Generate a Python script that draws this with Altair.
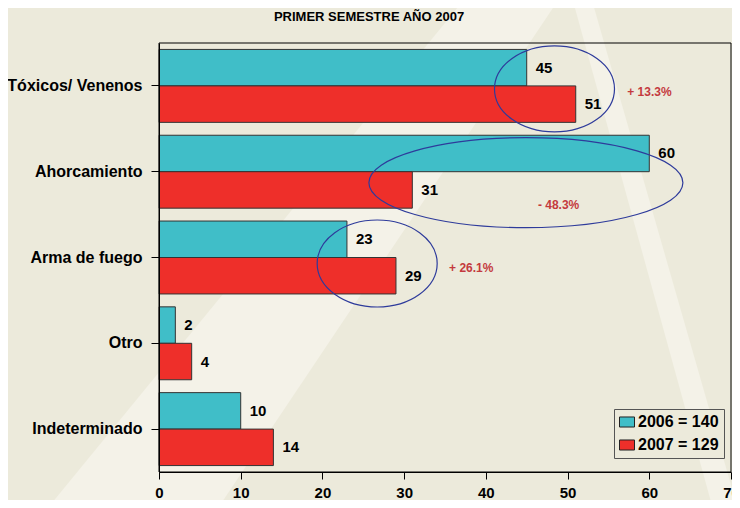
import altair as alt
import pandas as pd

# ---- data ----
cats = ["Tóxicos/ Venenos", "Ahorcamiento", "Arma de fuego", "Otro", "Indeterminado"]
years = ["2006", "2007"]
v2006 = [45, 60, 23, 2, 10]
v2007 = [51, 31, 29, 4, 14]
totals = [140, 129]
change_cats = ["Tóxicos/ Venenos", "Ahorcamiento", "Arma de fuego"]
change_txt = ["+ 13.3%", "- 48.3%", "+ 26.1%"]
subtitle = "PRIMER SEMESTRE AÑO 2007"

FONT = "Liberation Sans"
CYAN = "#40BEC8"
RED = "#EE2F2A"
BLUE = "#2E3B9B"
PCT = "#C43A3E"
BG = "#ECEADB"
LIGHT = "#F4F2E8"

W, H = 572, 429
LEFT, TOP = 151, 35

rows = []
for c, a, b in zip(cats, v2006, v2007):
    rows.append({"cat": c, "year": years[0], "value": a})
    rows.append({"cat": c, "year": years[1], "value": b})
df = pd.DataFrame(rows)

# ---- main scales ----
xs = alt.Scale(domain=[0, 70], nice=False, zero=True)
ys = alt.Scale(domain=cats, paddingInner=0.15, paddingOuter=0.075)
yo = alt.Scale(domain=years, paddingInner=0, paddingOuter=0)

label_map = " : ".join(
    [f"datum.label == '{y}' ? '{y} = {t}'" for y, t in zip(years, totals)]
) + " : datum.label"

bars = alt.Chart(df).mark_bar(stroke="#333333", strokeWidth=1).encode(
    x=alt.X("value:Q", scale=xs, axis=alt.Axis(
        values=list(range(0, 71, 10)), title=None, grid=False, tickSize=7,
        labelPadding=6, labelFontSize=15, labelFontWeight="bold", labelFont=FONT,
        labelColor="black", domainColor="black", tickColor="black", labelFlush=False,
        zindex=1)),
    y=alt.Y("cat:N", scale=ys, sort=cats, axis=alt.Axis(
        title=None, tickSize=8, labelPadding=9, labelFontSize=16, labelFontWeight="bold",
        labelFont=FONT, labelColor="black", domainColor="black", tickColor="black",
        zindex=1)),
    yOffset=alt.YOffset("year:N", scale=yo),
    color=alt.Color("year:N", scale=alt.Scale(domain=years, range=[CYAN, RED]),
                    legend=alt.Legend(
                        title=None, orient="none", legendX=455, legendY=366,
                        fillColor=BG, strokeColor="#555555", padding=5, rowPadding=7,
                        symbolType="M-1,-0.67H1V0.67H-1Z", symbolSize=225,
                        symbolStrokeColor="#222222", symbolStrokeWidth=1, symbolOpacity=1,
                        labelFont=FONT, labelFontSize=16, labelFontWeight="bold",
                        labelColor="black", labelOffset=3, labelExpr=label_map)),
)

labels = alt.Chart(df).mark_text(
    align="left", baseline="middle", dx=9, fontSize=15, fontWeight="bold",
    font=FONT, color="black").encode(
    x=alt.X("value:Q", scale=xs),
    y=alt.Y("cat:N", scale=ys, sort=cats),
    yOffset=alt.YOffset("year:N", scale=yo),
    text="value:Q",
)

frame = alt.Chart(pd.DataFrame({"f": [0]})).mark_rect(
    filled=False, stroke="black", strokeWidth=1
).encode(x=alt.value(0), x2=alt.value(W), y=alt.value(0), y2=alt.value(H))


def ellipse_path(r):
    k = 0.5523
    return (f"M 1 0 C 1 {r*k:.4f} {k:.4f} {r:.4f} 0 {r:.4f} "
            f"C {-k:.4f} {r:.4f} -1 {r*k:.4f} -1 0 "
            f"C -1 {-r*k:.4f} {-k:.4f} {-r:.4f} 0 {-r:.4f} "
            f"C {k:.4f} {-r:.4f} 1 {-r*k:.4f} 1 0 Z")


# annotation layout (ellipse centre in data units, pixel radii, offsets)
ell_x = [48.4, 44.9, 26.7]
ell_rx = [60, 157, 60]
ell_ry = [43, 45, 43.5]
ell_dy = [3, 11, 6]
pct_x = [57.3, 48.9, 35.5]
pct_align = ["left", "center", "left"]
pct_dy = [6, 33, 10]

annots = []
for i, c in enumerate(change_cats):
    edf = pd.DataFrame({"cat": [c], "x": [ell_x[i]]})
    annots.append(
        alt.Chart(edf).mark_point(
            shape=ellipse_path(ell_ry[i] / ell_rx[i]), size=(2 * ell_rx[i]) ** 2,
            filled=False, stroke=BLUE, strokeWidth=1.2, opacity=1, yOffset=ell_dy[i]
        ).encode(x=alt.X("x:Q", scale=xs), y=alt.Y("cat:N", scale=ys, sort=cats))
    )
    tdf = pd.DataFrame({"cat": [c], "x": [pct_x[i]], "t": [change_txt[i]]})
    annots.append(
        alt.Chart(tdf).mark_text(
            align=pct_align[i], baseline="middle", dy=pct_dy[i], fontSize=12,
            fontWeight="bold", font=FONT, color=PCT
        ).encode(x=alt.X("x:Q", scale=xs), y=alt.Y("cat:N", scale=ys, sort=cats), text="t:N")
    )

main = alt.layer(frame, bars, labels, *annots)

# ---- background decoration (page pixel coordinates) ----
pxs = alt.Scale(domain=[LEFT + 8, LEFT + 8 + W], nice=False, zero=False)
pys = alt.Scale(domain=[TOP + 8, TOP + 8 + H], nice=False, zero=False, reverse=True)
stripes = pd.DataFrame({
    "stripe": ["a", "a", "b", "b"],
    "py": [-10, 520, -10, 520],
    "xa": [472, 38, 570, 716],
    "xb": [565, 210, 589, 741],
})
bg = alt.Chart(stripes).mark_area(orient="horizontal", color=LIGHT, opacity=1).encode(
    y=alt.Y("py:Q", scale=pys, axis=None),
    x=alt.X("xa:Q", scale=pxs, axis=None),
    x2="xb:Q",
    detail="stripe:N",
)
sub = alt.Chart(pd.DataFrame({"px": [369], "py": [17], "t": [subtitle]})).mark_text(
    fontSize=13, fontWeight="bold", font=FONT, color="black", baseline="middle", align="center"
).encode(
    x=alt.X("px:Q", scale=pxs, axis=None),
    y=alt.Y("py:Q", scale=pys, axis=None),
    text="t:N",
)
back = alt.layer(bg, sub)

chart = alt.layer(back, main).resolve_scale(x="independent", y="independent").properties(
    width=W, height=H,
    padding={"left": LEFT, "top": TOP, "right": 1, "bottom": 28},
    autosize=alt.AutoSizeParams(type="none"),
    background=BG,
).configure_view(strokeWidth=0)

chart.save("out.html", embed_options={"renderer": "svg", "actions": False})
